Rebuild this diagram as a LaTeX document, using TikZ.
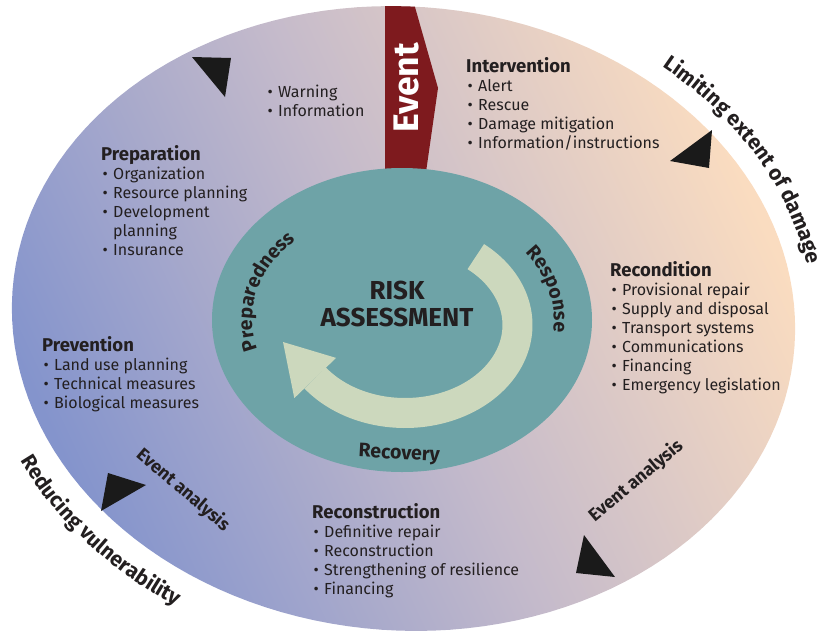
\documentclass[tikz,border=0pt]{standalone}
\usepackage{fontspec}
\setmainfont{Fira Sans}
\usetikzlibrary{decorations.text}
\definecolor{bgblue}{HTML}{8494CC}
\definecolor{bgmid}{HTML}{C4BACB}
\definecolor{bgpeach}{HTML}{FADCC0}
\definecolor{innerteal}{HTML}{6EA3A7}
\definecolor{arrowc}{HTML}{CCD8BD}
\definecolor{eventred}{HTML}{7E1A1E}
\definecolor{ink}{HTML}{231F20}
\definecolor{tri}{HTML}{1A1A1A}
\newcommand\itm{\makebox[12pt][l]{\hspace{1.5pt}•}}
\newcommand\hd[1]{{\fontsize{18.5}{19.1}\selectfont\bfseries #1}}
\newcommand\curvefont{\fontsize{21}{24}\selectfont\bfseries}
\newcommand\ringfont{\fontsize{19.5}{22}\selectfont\bfseries}
\newcommand\firstline{\rule{0pt}{13pt}}
\begin{document}
\begin{tikzpicture}[x=1pt,y=-1pt,
  block/.style={anchor=north west, inner sep=0pt, align=left, text=ink, font=\fontsize{16}{19.1}\selectfont},
  tag/.style={inner sep=0pt, text=ink, font=\fontsize{18}{20}\selectfont\bfseries},
  trifill/.style={fill=tri},
  curvelabel/.style={decorate, decoration={text along path, text align=center, text color=ink, text={#1}}},
]
\useasboundingbox (0,0) rectangle (825,633);
% outer ellipse with gradient
\shade[top color=bgpeach, bottom color=bgblue, middle color=bgmid, shading angle=-65]
  plot[domain=0:360, samples=145] ({403.5+391.04*cos(\x)-21.77*sin(\x)},{318.5+27.35*cos(\x)+311.24*sin(\x)}) -- cycle;
% event banner
\begin{scope}
  \clip plot[domain=0:360, samples=145] ({403.5+391.04*cos(\x)-21.77*sin(\x)},{318.5+27.35*cos(\x)+311.24*sin(\x)}) -- cycle;
  \fill[eventred] (385,0) -- (413,0) -- (438,88) -- (422,200) -- (385,200) -- cycle;
\end{scope}
\node[rotate=90, inner sep=0pt, text=white, font=\fontsize{35.5}{36}\selectfont\bfseries] (event) at (406,88) {Event};
% inner ellipse
\fill[innerteal] (402,320) ellipse [x radius=190pt, y radius=152pt];
% circular arrow
\draw[arrowc, line width=30pt] plot[domain=-51:143, samples=90] ({405+112.5*cos(\x)},{325+88*sin(\x)});
\fill[arrowc] (336.1,357.9) -- (283,342) -- (294.3,398.1) -- cycle;
\node[inner sep=0pt, align=center, text=ink, font=\fontsize{26}{27}\selectfont\bfseries] (risk) at (397,303.5) {RISK\\ASSESSMENT};
% ring labels
\path[curvelabel={|\ringfont|Preparedness}] plot[domain=150:238, samples=60] ({402+150*cos(\x)},{320+112*sin(\x)});
\path[curvelabel={|\ringfont|Response}] plot[domain=-50:22, samples=60] ({402+152*cos(\x)},{320+115*sin(\x)});
\node[tag, font=\ringfont, anchor=base, rotate=-3] (recovery) at (399,459) {Recovery};
% outer curved labels
\path[curvelabel={|\curvefont|Limiting extent of damage}] plot[domain=-68:2, samples=80] ({403.5+410.99*cos(\x)-23.16*sin(\x)},{318.5+28.74*cos(\x)+331.19*sin(\x)});
\path[curvelabel={|\curvefont|Reducing vulnerability}] plot[domain=0:60, samples=80] ({403.5+424.96*cos(166-\x)-24.14*sin(166-\x)},{318.5+29.72*cos(166-\x)+345.16*sin(166-\x)});
% event analysis
\node[tag, rotate=-40.5] (ea1) at (183,490) {Event analysis};
\node[tag, rotate=40] (ea2) at (636,481) {Event analysis};
% triangles
\fill[trifill] (192,57) -- (231,58) -- (225,97) -- cycle;
\fill[trifill] (712,130) -- (670,161) -- (709,168) -- cycle;
\fill[trifill] (108,473) -- (146,485) -- (101,511) -- cycle;
\fill[trifill] (584,535) -- (615,577) -- (576,573) -- cycle;
% text blocks
\node[block] (interv) at (466,57) {\firstline\hd{Intervention}\\\itm Alert\\\itm Rescue\\\itm Damage mitigation\\\itm Information/instructions};
\node[block] (warn) at (266,84) {\firstline\itm Warning\\\itm Information};
\node[block] (prep) at (101,145) {\firstline\hd{Preparation}\\\itm Organization\\\itm Resource planning\\\itm Development\\\hspace*{12pt}planning\\\itm Insurance};
\node[block] (prev) at (42,336) {\firstline\hd{Prevention}\\\itm Land use planning\\\itm Technical measures\\\itm Biological measures};
\node[block] (recond) at (610,261) {\firstline\hd{Recondition}\\\itm Provisional repair\\\itm Supply and disposal\\\itm Transport systems\\\itm Communications\\\itm Financing\\\itm Emergency legislation};
\node[block] (recon) at (312,503) {\firstline\hd{Reconstruction}\\\itm Definitive repair\\\itm Reconstruction\\\itm Strengthening of resilience\\\itm Financing};
\end{tikzpicture}
\end{document}
